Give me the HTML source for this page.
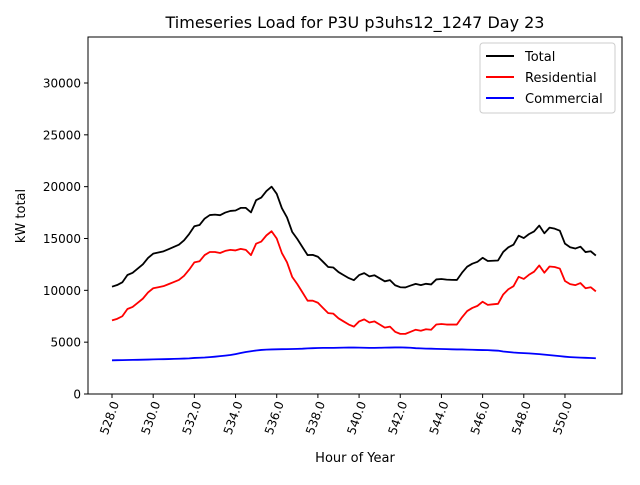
<!DOCTYPE html>
<html><head><meta charset="utf-8"><style>
body{margin:0;background:#fff}
svg text{font-family:"DejaVu Sans","Liberation Sans",sans-serif;fill:#000}
</style></head><body>
<svg id="chart" width="640" height="480" xmlns="http://www.w3.org/2000/svg">
<rect width="640" height="480" fill="#fff"/>
<text x="355" y="28" font-size="16" text-anchor="middle">Timeseries Load for P3U p3uhs12_1247  Day 23</text>
<g id="ticks"></g>
<g id="lines"></g>
<rect x="88" y="37" width="534" height="357" fill="none" stroke="#000" stroke-width="1"/>
<text x="355" y="462" font-size="13" text-anchor="middle">Hour of Year</text>
<text transform="translate(25,216) rotate(-90)" font-size="13" text-anchor="middle">kW total</text>
<g>
<rect x="480" y="43" width="135" height="70" rx="3" fill="#fff" stroke="#ccc"/>
<line x1="486" y1="56" x2="514" y2="56" stroke="#000" stroke-width="2"/>
<text x="525" y="61" font-size="13">Total</text>
<line x1="486" y1="77" x2="514" y2="77" stroke="red" stroke-width="2"/>
<text x="525" y="82" font-size="13">Residential</text>
<line x1="486" y1="98" x2="514" y2="98" stroke="blue" stroke-width="2"/>
<text x="525" y="103" font-size="13">Commercial</text>
</g>
</svg>
<script>
const startHour = 528, stepHour = 0.25;
const xTicks = [528,530,532,534,536,538,540,542,544,546,548,550];
const yTicks = [0,5000,10000,15000,20000,25000,30000];
const residential = [7100,7250,7500,8200,8400,8800,9200,9800,10200,10300,10400,10600,10800,11000,11400,12000,12700,12800,13400,13700,13700,13600,13800,13900,13850,14000,13900,13400,14500,14700,15300,15700,15000,13600,12700,11300,10600,9800,9000,9000,8800,8300,7800,7750,7300,7000,6700,6500,7000,7200,6900,7000,6700,6400,6500,6000,5800,5800,6000,6200,6100,6250,6200,6700,6750,6700,6700,6700,7400,8000,8300,8500,8900,8600,8650,8700,9600,10100,10400,11300,11100,11500,11800,12400,11700,12300,12250,12100,10900,10600,10500,10700,10200,10300,9900];
const commercial = [3250,3260,3270,3280,3290,3300,3310,3320,3340,3350,3360,3370,3390,3400,3420,3440,3480,3500,3520,3560,3600,3650,3700,3760,3850,3950,4050,4120,4200,4250,4280,4300,4310,4320,4330,4340,4350,4370,4400,4420,4440,4450,4450,4450,4460,4470,4480,4480,4470,4460,4450,4450,4460,4470,4480,4490,4500,4480,4460,4420,4400,4380,4370,4350,4340,4330,4310,4300,4300,4280,4270,4250,4240,4230,4200,4180,4100,4050,4000,3970,3940,3920,3880,3850,3800,3750,3700,3650,3600,3560,3530,3510,3490,3470,3450];
const total = [10350,10510,10770,11480,11690,12100,12510,13120,13540,13650,13760,13970,14190,14400,14820,15440,16180,16300,16920,17260,17300,17250,17500,17660,17700,17950,17950,17520,18700,18950,19580,20000,19310,17920,17030,15640,14950,14170,13400,13420,13240,12750,12250,12200,11760,11470,11180,10980,11470,11660,11350,11450,11160,10870,10980,10490,10300,10280,10460,10620,10500,10630,10570,11050,11090,11030,11010,11000,11700,12280,12570,12750,13140,12830,12850,12880,13700,14150,14400,15270,15040,15420,15680,16250,15500,16050,15950,15750,14500,14160,14030,14210,13690,13770,13350];

const X0=88,X1=622,Y0=394,Y1=37, xmin=526.834, xmax=552.77, ymin=0, ymax=34436;
const xs=h=>X0+(h-xmin)/(xmax-xmin)*(X1-X0);
const ys=v=>Y0-(v-ymin)/(ymax-ymin)*(Y0-Y1);
const NS='http://www.w3.org/2000/svg';
const tg=document.getElementById('ticks'), lg=document.getElementById('lines');
function mk(tag,attrs,parent){const e=document.createElementNS(NS,tag);for(const k in attrs)e.setAttribute(k,attrs[k]);parent.appendChild(e);return e;}
xTicks.forEach(t=>{
  const x=xs(t);
  const l=mk('line',{x1:x,y1:Y0,x2:x,y2:Y0+4,stroke:'#000'},tg);
  
  
  const tx=mk('text',{transform:`translate(${x+4},${Y0+8}) rotate(-70)`,'font-size':12,'text-anchor':'end','dominant-baseline':'middle'},tg);
  tx.textContent=t.toFixed(1);
  
  
});
yTicks.forEach(t=>{
  const y=ys(t);
  const l=mk('line',{x1:X0-4,y1:y,x2:X0,y2:y,stroke:'#000'},tg);
  
  
  const tx=mk('text',{x:X0-7,y:y+4.5,'font-size':12,'text-anchor':'end'},tg);
  tx.textContent=t;
  
  
});
function series(arr,color,name){
  const d=arr.map((v,i)=>(i?'L':'M')+xs(startHour+i*stepHour).toFixed(2)+','+ys(v).toFixed(2)).join('');
  const p=mk('path',{d:d,fill:'none',stroke:color,'stroke-width':1.8,'stroke-linejoin':'round'},lg);
  
  
}
series(total,'#000','total-line');
series(residential,'red','residential-line');
series(commercial,'blue','commercial-line');
</script>
</body></html>
